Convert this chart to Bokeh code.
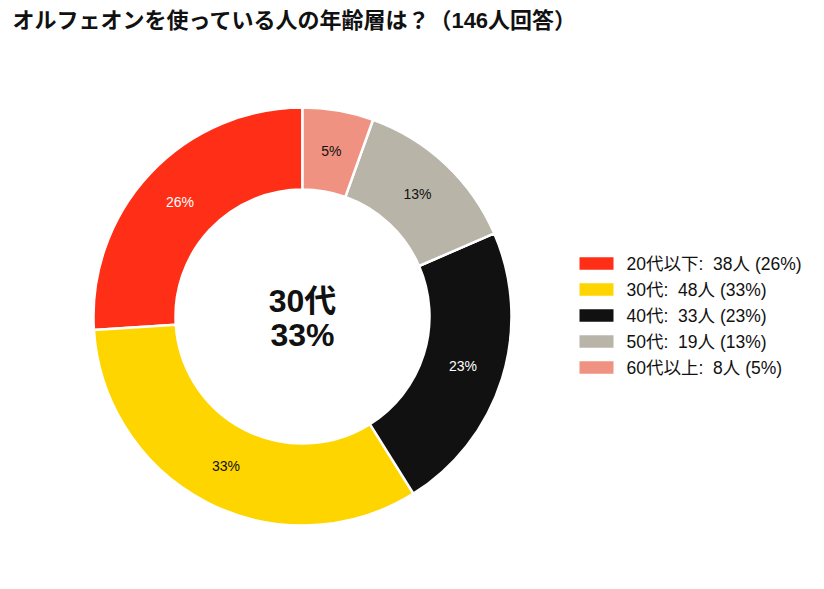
import math
from bokeh.plotting import figure
from bokeh.models import ColumnDataSource, Range1d
from bokeh.core.properties import value
from bokeh.embed import file_html
from bokeh.resources import INLINE

title = "オルフェオンを使っている人の年齢層は？（146人回答）"
categories = ["20代以下", "30代", "40代", "50代", "60代以上"]
counts = [38, 48, 33, 19, 8]
percents = [26, 33, 23, 13, 5]
colors = ["#FF2E16", "#FFD500", "#111111", "#B8B4A8", "#F09282"]
label_colors = ["white", "#111111", "white", "#111111", "#111111"]
center_lines = ["30代", "33%"]

W, H = 808, 573
FONT = "Liberation Sans, Noto Sans CJK JP"

p = figure(width=W, height=H, output_backend="svg", toolbar_location=None,
           x_range=Range1d(0, W), y_range=Range1d(0, H), min_border=0)
p.axis.visible = False
p.grid.visible = False
p.outline_line_color = None
p.background_fill_color = "white"

cx, cy = 302, 257
r_out, r_in = 209, 127
r_lab = 168

total = sum(counts)
starts, ends, lx, ly = [], [], [], []
acc = 0
for c in counts:
    a0 = math.pi / 2 + 2 * math.pi * acc / total
    acc += c
    a1 = math.pi / 2 + 2 * math.pi * acc / total
    starts.append(a0)
    ends.append(a1)
    m = (a0 + a1) / 2
    lx.append(cx + r_lab * math.cos(m))
    ly.append(cy + r_lab * math.sin(m))

src = ColumnDataSource(dict(start=starts, end=ends, color=colors,
                            lx=lx, ly=ly,
                            lab=[f"{v}%" for v in percents], lc=label_colors))
p.annular_wedge(x=cx, y=cy, inner_radius=r_in, outer_radius=r_out,
                inner_radius_units="screen", outer_radius_units="screen",
                start_angle="start", end_angle="end", fill_color="color",
                line_color="white", line_width=2.5, source=src)
p.text(x="lx", y="ly", text="lab", text_color="lc", source=src,
       text_align="center", text_baseline="middle",
       text_font=value(FONT), text_font_size="14px")

# center text
p.text(x=[cx, cx], y=[cy + 16, cy - 18], text=center_lines,
       text_align="center", text_baseline="middle", text_color="#111111",
       text_font=value(FONT), text_font_size="32px", text_font_style="bold")

# title
p.text(x=[12], y=[553], text=[title], text_align="left", text_baseline="middle",
       text_color="#111111", text_font=value(FONT), text_font_size="22px",
       text_font_style="bold")

# legend
leg_y = [H - 263 - 26 * i for i in range(len(categories))]
leg_text = [f"{c}:\u00a0\u00a0{n}人 ({pc}%)" for c, n, pc in zip(categories, counts, percents)]
p.rect(x=[596] * len(categories), y=leg_y, width=34, height=12.5,
       width_units="screen", height_units="screen",
       fill_color=colors, line_color=None)
p.text(x=[626] * len(categories), y=leg_y, text=leg_text, text_align="left",
       text_baseline="middle", text_color="#111111", text_font=value(FONT),
       text_font_size="17.5px")

open("out.html", "w").write(file_html(p, INLINE))
